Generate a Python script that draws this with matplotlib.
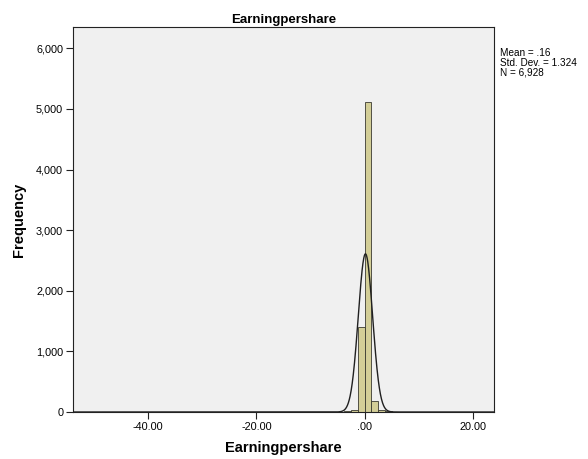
import numpy as np
import matplotlib.pyplot as plt
from matplotlib.ticker import FuncFormatter

plt.rcParams['font.family'] = ['Liberation Sans', 'DejaVu Sans']

# histogram bins (width 1.25) and counts
bin_left = [-50.0, -6.25, -5.0, -3.75, -2.5, -1.25, 0.0, 1.25, 2.5, 3.75, 5.0, 20.0]
counts = [1, 4, 8, 22, 35, 1400, 5110, 180, 38, 15, 8, 1]
bin_width = 1.25

mean = 0.16
std = 1.324
n = 6928

x_ticks = [-40, -20, 0, 20]
y_ticks = [0, 1000, 2000, 3000, 4000, 5000, 6000]

fig = plt.figure(figsize=(5.88, 4.59), dpi=100)
ax = fig.add_axes([0.124, 0.1024, 0.716, 0.8386])
ax.set_facecolor('#F0F0F0')

ax.bar(bin_left, counts, width=bin_width, align='edge',
       color='#D3CE97', edgecolor='#3a3a30', linewidth=0.6, zorder=2)

xs = np.linspace(-53.9, 23.9, 2000)
ys = n * bin_width / (std * np.sqrt(2 * np.pi)) * np.exp(-0.5 * ((xs - mean) / std) ** 2)
ax.plot(xs, ys, color='#202020', linewidth=1.0, zorder=3)

ax.set_xlim(-53.9, 23.9)
ax.set_ylim(0, 6350)
ax.set_xticks(x_ticks)
ax.set_yticks(y_ticks)


def fmt_x(v, pos):
    s = '%.2f' % v
    if s.startswith('0.'):
        s = s[1:]
    return s


ax.xaxis.set_major_formatter(FuncFormatter(fmt_x))
ax.yaxis.set_major_formatter(FuncFormatter(lambda v, p: '{:,.0f}'.format(v)))
ax.tick_params(direction='out', length=5, width=0.8, labelsize=7.8, color='#222222', pad=2)

for s in ax.spines.values():
    s.set_linewidth(0.8)
    s.set_color('#222222')

ax.set_title('Earningpershare', fontsize=9.5, fontweight='bold', pad=3)
ax.set_xlabel('Earningpershare', fontsize=10.5, fontweight='bold', labelpad=7)
ax.set_ylabel('Frequency', fontsize=10.5, fontweight='bold', labelpad=7)

fig.text(0.851, 0.895, 'Mean = .16\nStd. Dev. = 1.324\nN = 6,928',
         fontsize=7.2, va='top', ha='left', linespacing=0.95)

fig.savefig('out.png', dpi=100)
